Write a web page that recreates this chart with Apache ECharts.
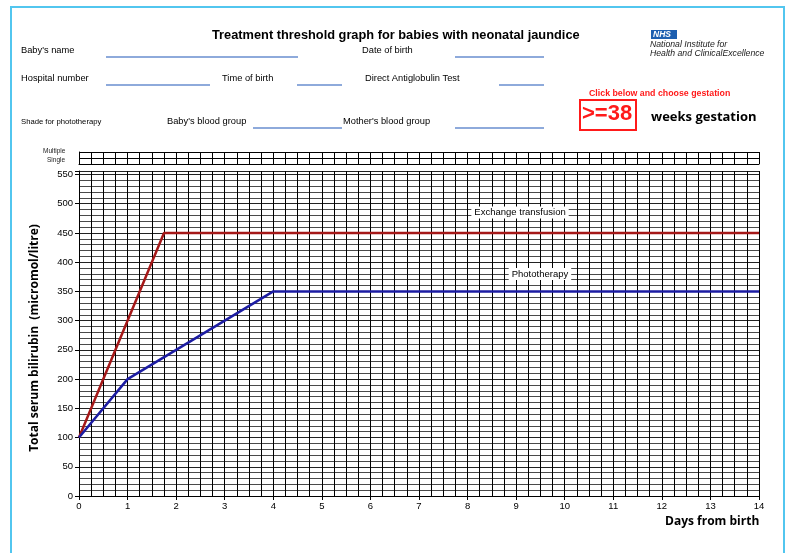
<!DOCTYPE html>
<html>
<head>
<meta charset="utf-8">
<script src="https://cdn.jsdelivr.net/npm/echarts@6/dist/echarts.min.js"></script>
<style>
    html, body {margin: 0; padding: 0; background: #fff;}
    #chart {width: 790px; height: 553px;}
</style>
</head>
<body>
<div id="chart"></div>
<script>
// threshold lines: [days, micromol/litre]
var exchangeTransfusion = [[0, 100], [1.75, 450], [14, 450]];
var phototherapy = [[0, 100], [1, 200], [4, 350], [14, 350]];
var dayRange = [0, 14];
var bilirubinRange = [0, 556];
var stripRows = ['Single', 'Multiple'];

var chart = echarts.init(document.getElementById('chart'));

var txt = function (x, y, s, size, extra) {
    return {
        type: 'text', left: x, top: y,
        style: Object.assign({text: s, fontSize: size, fontFamily: 'Liberation Sans', fill: '#000'}, extra || {})
    };
};
var rule = function (x1, x2, y) {
    return {type: 'line', shape: {x1: x1, y1: y, x2: x2, y2: y}, style: {stroke: '#8eaadb', lineWidth: 2}};
};

var xAxisBase = {
    type: 'value', min: dayRange[0], max: dayRange[1], interval: 1,
    splitLine: {show: true, lineStyle: {color: '#000', width: 1}},
    minorTick: {show: false, splitNumber: 4},
    minorSplitLine: {show: true, lineStyle: {color: '#000', width: 1}},
    axisLine: {show: true, lineStyle: {color: '#000'}},
    axisTick: {show: false},
    axisLabel: {show: false}
};

chart.setOption({
    animation: false,
    grid: [
        {left: 79, right: 31, top: 171, bottom: 57},
        {left: 79, right: 31, top: 152, height: 12}
    ],
    xAxis: [
        Object.assign({}, xAxisBase, {
            gridIndex: 0,
            axisLabel: {show: true, fontSize: 9.5, fontFamily: 'Liberation Sans', color: '#000', margin: 5},
            axisTick: {show: true, length: 4, lineStyle: {color: '#000'}}
        }),
        Object.assign({}, xAxisBase, {gridIndex: 1})
    ],
    yAxis: [
        {
            gridIndex: 0, type: 'value', min: bilirubinRange[0], max: bilirubinRange[1], interval: 50,
            splitLine: {show: true, lineStyle: {color: '#222', width: 1}},
            minorTick: {show: false, splitNumber: 5},
            minorSplitLine: {show: true, lineStyle: {color: '#4a4a4a', width: 1}},
            axisLine: {show: true, lineStyle: {color: '#000'}},
            axisTick: {show: true, length: 4, lineStyle: {color: '#000'}},
            axisLabel: {
                fontSize: 9.5, fontFamily: 'Liberation Sans', color: '#000', margin: 6,
                formatter: function (v) { return v % 50 === 0 ? String(v) : ''; }
            }
        },
        {
            gridIndex: 1, type: 'value', min: 0, max: stripRows.length, interval: 1,
            splitLine: {show: true, lineStyle: {color: '#000', width: 1}},
            axisLine: {show: true, lineStyle: {color: '#000'}},
            axisTick: {show: false},
            axisLabel: {show: false}
        }
    ],
    series: [
        {
            name: 'Exchange transfusion', type: 'line', xAxisIndex: 0, yAxisIndex: 0,
            data: exchangeTransfusion, symbol: 'none',
            lineStyle: {color: '#a51818', width: 2.5},
            markPoint: {
                symbol: 'rect', symbolSize: 0,
                data: [{coord: [9.08, 485]}],
                label: {
                    show: true, formatter: 'Exchange transfusion', fontSize: 9.5, fontFamily: 'Liberation Sans',
                    color: '#000', backgroundColor: '#fff', padding: [1, 3]
                }
            }
        },
        {
            name: 'Phototherapy', type: 'line', xAxisIndex: 0, yAxisIndex: 0,
            data: phototherapy, symbol: 'none',
            lineStyle: {color: '#1c1ca3', width: 2.5},
            markPoint: {
                symbol: 'rect', symbolSize: 0,
                data: [{coord: [9.49, 380]}],
                label: {
                    show: true, formatter: 'Phototherapy', fontSize: 9.5, fontFamily: 'Liberation Sans',
                    color: '#000', backgroundColor: '#fff', padding: [1, 3]
                }
            }
        }
    ],
    graphic: [
        {type: 'rect', shape: {x: 11, y: 7, width: 773, height: 560}, style: {fill: 'none', stroke: '#52c6ef', lineWidth: 2}},
        txt(212, 29, 'Treatment threshold graph for babies with neonatal jaundice', 12.8, {fontWeight: 'bold'}),
        txt(21, 46, "Baby's name", 9.3), rule(106, 298, 57),
        txt(362, 46, 'Date of birth', 9.3), rule(455, 544, 57),
        txt(21, 74, 'Hospital number', 9.3), rule(106, 210, 85),
        txt(222, 74, 'Time of birth', 9.3), rule(297, 342, 85),
        txt(365, 74, 'Direct Antiglobulin Test', 9.3), rule(499, 544, 85),
        txt(21, 118, 'Shade for phototherapy', 7.7),
        txt(167, 117, "Baby's blood group", 9.3), rule(253, 342, 128),
        txt(343, 117, "Mother's blood group", 9.3), rule(455, 544, 128),
        {type: 'rect', shape: {x: 651, y: 30, width: 26, height: 9}, style: {fill: '#1d5fb0'}},
        txt(653, 30, 'NHS', 8.5, {fontWeight: 'bold', fontStyle: 'italic', fill: '#fff'}),
        txt(650, 40, 'National Institute for', 8.7, {fontStyle: 'italic', fill: '#222'}),
        txt(650, 49, 'Health and ClinicalExcellence', 8.7, {fontStyle: 'italic', fill: '#222'}),
        txt(589, 89, 'Click below and choose gestation', 8.8, {fontWeight: 'bold', fill: '#ff1a1a'}),
        {type: 'rect', shape: {x: 580, y: 100, width: 56, height: 30}, style: {fill: 'none', stroke: '#ff1a1a', lineWidth: 2}},
        txt(582, 103, '>=38', 22, {fontWeight: 'bold', fill: '#ff1a1a', fontFamily: 'Liberation Sans'}),
        txt(651, 111, 'weeks gestation', 13, {fontWeight: 'bold', fontFamily: 'Open Sans'}),
        txt(43, 148, 'Multiple', 6.5, {fill: '#222'}),
        txt(47, 157, 'Single', 6.5, {fill: '#222'}),
        {
            type: 'text', x: 35, y: 338, rotation: Math.PI / 2,
            style: {text: 'Total serum bilirubin  (micromol/litre)', fontSize: 12, fontWeight: 'bold', fontFamily: 'Open Sans', fill: '#000', align: 'center', verticalAlign: 'middle'}
        },
        txt(665, 516, 'Days from birth', 12, {fontWeight: 'bold', fontFamily: 'Open Sans'})
    ]
});
</script>
</body>
</html>
